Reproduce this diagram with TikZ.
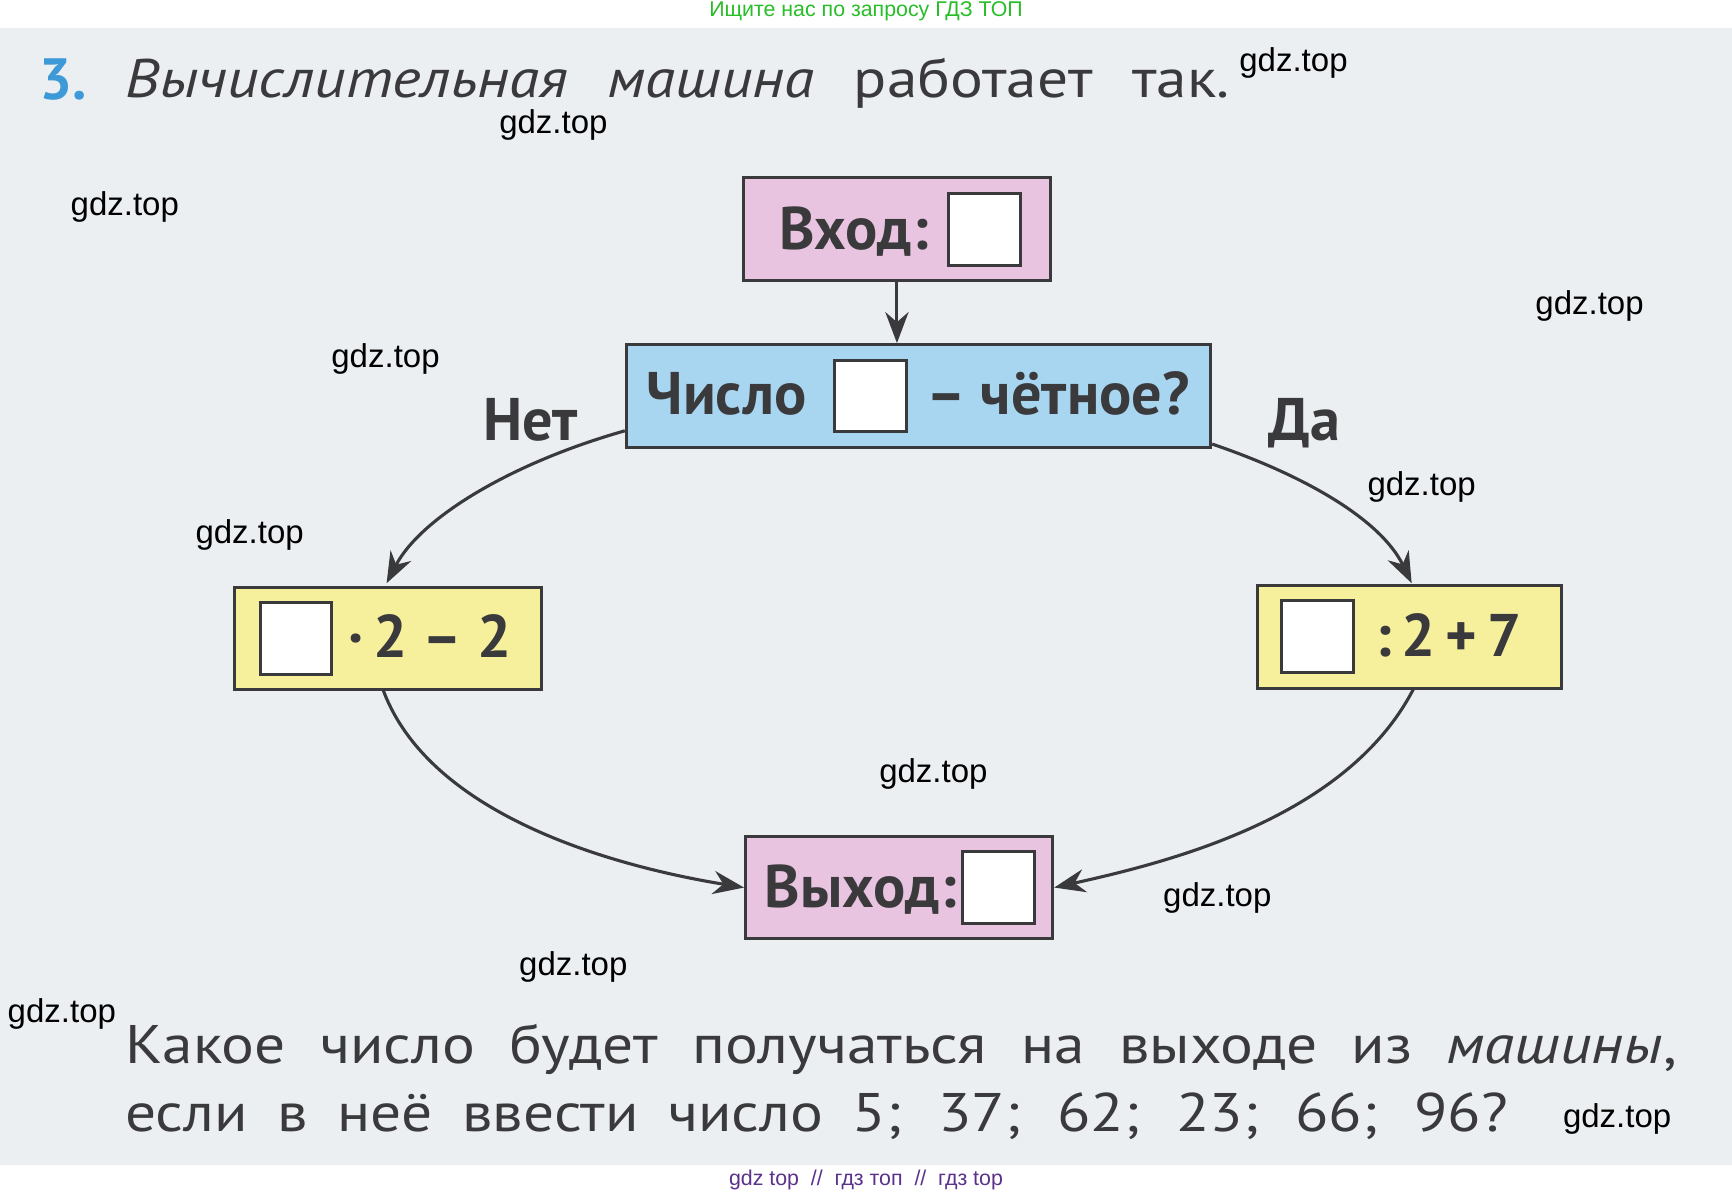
\documentclass[tikz,border=0pt]{standalone}
\usepackage{fontspec}
\setmainfont{PT Sans}
\newfontfamily\wide[FakeStretch=1.13]{PT Sans}
\newfontfamily\wm{Liberation Sans}
\usetikzlibrary{arrows.meta}
\definecolor{ink}{HTML}{3A3A3C}
\definecolor{pinkf}{HTML}{E8C4E0}
\definecolor{bluef}{HTML}{A8D6F0}
\definecolor{yelf}{HTML}{F6F09C}
\definecolor{pagef}{HTML}{ECEFF2}
\tikzset{
 box/.style={draw=ink,line width=1.6pt,minimum width=5.56cm,minimum height=1.86cm,inner sep=0pt},
 sq/.style={draw=ink,fill=white,line width=1.6pt,minimum size=1.3cm,inner sep=0pt},
 bt/.style={text=ink,font=\bfseries\fontsize{31}{34}\selectfont,inner sep=0pt,anchor=base west},
 body/.style={text=ink,font=\wide\fontsize{28}{32}\selectfont,inner sep=0pt,anchor=base west},
 wmk/.style={font=\wm\fontsize{17}{20}\selectfont,text=black,inner sep=0pt},
 arr/.style={draw=ink,line width=1.6pt,-{Stealth[length=16pt,width=12pt]}}
}
\begin{document}
\begin{tikzpicture}[x=0.02cm,y=-0.02cm]
\useasboundingbox (0,0) rectangle (1568,1080);
\fill[white] (0,0) rectangle (1568,1080);
\fill[pagef] (0,25) rectangle (1568,1055);
% title
\node[body,anchor=base west,text={rgb,255:red,62;green,154;blue,214},font=\bfseries\fontsize{30}{34}\selectfont] (n3) at (35,90) {3.};
\node[body] (t1) at (113,88) {\makebox[20cm][s]{\textit{Вычислительная} \textit{машина} работает так.}};
% boxes
\node[box,fill=pinkf] (in) at (812,207.5) {};
\node[box,fill=bluef,minimum width=10.58cm] (q) at (831.5,358.5) {};
\node[box,fill=yelf] (l) at (351,578) {};
\node[box,fill=yelf,minimum width=5.52cm] (r) at (1276,576.5) {};
\node[box,fill=pinkf] (out) at (814,803.5) {};
% contents
\node[bt] (int) at (705,226) {Вход:};
\node[sq] (ins) at (891,207.5) {};
\node[bt] (qt1) at (585,375) {Число};
\node[sq] (qs) at (788,358.5) {};
\node[bt] (qt2) at (838,375) {– чётное?};
\node[sq] (ls) at (268,578) {};
\node[bt] (lt) at (315,595) {·\,2 – 2};
\node[sq] (rs) at (1193,576.5) {};
\node[bt] (rt) at (1245,594) {:\,2\,+\,7};
\node[bt] (outt) at (692,822) {Выход:};
\node[sq] (outs) at (904,803.5) {};
\node[bt] (no) at (437,399) {Нет};
\node[bt] (yes) at (1148,399) {Да};
% arrows
\draw[arr] (in.south) -- (in.south|-q.north);
\draw[arr] (q.west|-0,390) .. controls (460,420) and (380,470) .. (350,528);
\draw[arr] (q.east|-0,402) .. controls (1180,430) and (1250,470) .. (1278,528);
\draw[arr] (347,625) .. controls (390,740) and (560,785) .. (out.west);
\draw[arr] (1280,623) .. controls (1220,740) and (1060,780) .. (out.east);
% bottom text
\node[body] (b1) at (113,963) {\makebox[28.1cm][s]{Какое число будет получаться на выходе из \textit{машины},}};
\node[body] (b2) at (113,1024) {\makebox[25.04cm][s]{если в неё ввести число 5; 37; 62; 23; 66; 96?}};
% watermarks
\node[wmk,text={rgb,255:red,40;green,190;blue,40},font=\wm\fontsize{11}{13}\selectfont] (w0) at (784,10) {Ищите нас по запросу ГДЗ ТОП};
\node[wmk,text={rgb,255:red,90;green,50;blue,140},font=\wm\fontsize{11}{13}\selectfont] (w00) at (784,1068) {gdz top \ // \ гдз топ \ // \ гдз top};
\node[wmk] (w1) at (1171,57) {gdz.top};
\node[wmk] (w2) at (501,113) {gdz.top};
\node[wmk] (w3) at (113,187) {gdz.top};
\node[wmk] (w4) at (1439,277) {gdz.top};
\node[wmk] (w5) at (349,325) {gdz.top};
\node[wmk] (w6) at (1287,441) {gdz.top};
\node[wmk] (w7) at (226,484) {gdz.top};
\node[wmk] (w8) at (845,701) {gdz.top};
\node[wmk] (w9) at (1102,813) {gdz.top};
\node[wmk] (w10) at (519,875) {gdz.top};
\node[wmk] (w11) at (56,918) {gdz.top};
\node[wmk] (w12) at (1464,1013) {gdz.top};
\end{tikzpicture}
\end{document}
